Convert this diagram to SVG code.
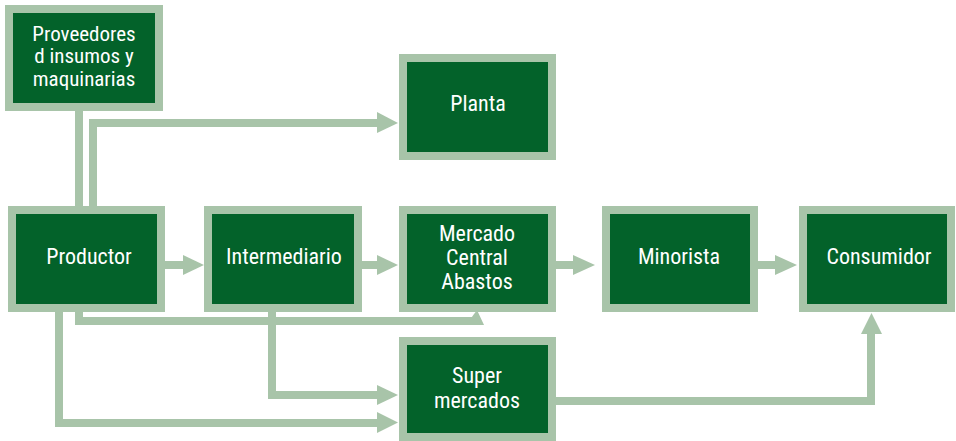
<svg xmlns="http://www.w3.org/2000/svg" width="956" height="441" viewBox="0 0 956 441">
<style>
.box{fill:#03622a;stroke:#a8c4a9;stroke-width:8}
.lbl{font-family:"Liberation Sans Narrow","Arial Narrow","Roboto Condensed","DejaVu Sans Condensed","Liberation Sans",sans-serif;font-size:22px;font-weight:400;fill:#ffffff;text-anchor:middle}
.sm{font-size:21px}
.ln{fill:none;stroke:#a8c4a9;stroke-width:8;stroke-linejoin:miter}
.ah{fill:#a8c4a9}
</style>
<rect width="956" height="441" fill="#ffffff"/>
<g id="connectors">
<path class="ln" d="M79,111 V210"/>
<path class="ln" d="M93,210 V123 H380"/>
<polygon class="ah" points="377,112 398,123 377,133"/>
<path class="ln" d="M161,265 H186"/>
<polygon class="ah" points="183,255 204,265 183,275"/>
<path class="ln" d="M358,265 H380"/>
<polygon class="ah" points="377,255 398,265 377,275"/>
<path class="ln" d="M552,265 H576"/>
<polygon class="ah" points="573,255 595,265 573,275"/>
<path class="ln" d="M754,265 H778"/>
<polygon class="ah" points="775,255 797,265 775,275"/>
<path class="ln" d="M79,308 V321 H472"/>
<polygon class="ah" points="466,325 477,310 484,325"/>
<path class="ln" d="M59,308 V423 H380"/>
<polygon class="ah" points="377,412 398,422.5 377,433"/>
<path class="ln" d="M272,308 V395 H380"/>
<polygon class="ah" points="377,385 398,395 377,405"/>
<path class="ln" d="M552,401 H871 V331"/>
<polygon class="ah" points="861,334 871.5,313 882,334"/>
</g>
<g id="proveedores">
<rect class="box" x="9" y="9" width="150" height="98"/>
<text class="lbl sm" x="84" y="41">Proveedores</text>
<text class="lbl sm" x="84" y="63">d insumos y</text>
<text class="lbl sm" x="84" y="86">maquinarias</text>
</g>
<g id="planta">
<rect class="box" x="403" y="58" width="149" height="98"/>
<text class="lbl" x="478" y="111">Planta</text>
</g>
<g id="productor">
<rect class="box" x="12" y="210" width="149" height="98"/>
<text class="lbl" x="89" y="264">Productor</text>
</g>
<g id="intermediario">
<rect class="box" x="208" y="210" width="150" height="98"/>
<text class="lbl" x="284" y="264">Intermediario</text>
</g>
<g id="mercado">
<rect class="box" x="403" y="210" width="149" height="98"/>
<text class="lbl" x="477" y="241">Mercado</text>
<text class="lbl" x="477" y="265">Central</text>
<text class="lbl" x="477" y="289">Abastos</text>
</g>
<g id="minorista">
<rect class="box" x="606" y="210" width="148" height="98"/>
<text class="lbl" x="679" y="264">Minorista</text>
</g>
<g id="consumidor">
<rect class="box" x="803" y="210" width="148" height="98"/>
<text class="lbl" x="879" y="264">Consumidor</text>
</g>
<g id="supermercados">
<rect class="box" x="403" y="341" width="149" height="96"/>
<text class="lbl" x="477" y="383">Super</text>
<text class="lbl" x="477" y="408">mercados</text>
</g>
</svg>
